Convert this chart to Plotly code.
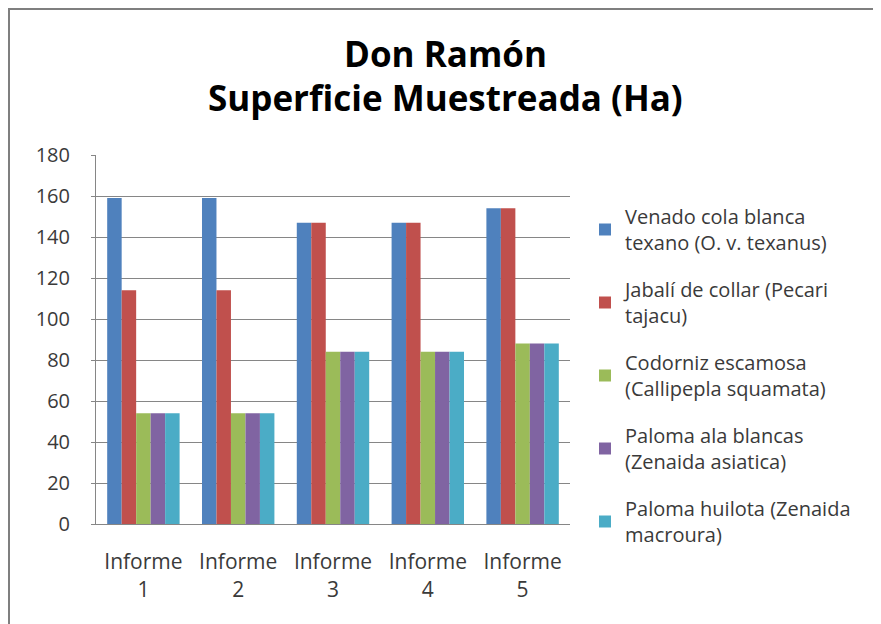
import plotly.graph_objects as go

categories = ["Informe<br>1", "Informe<br>2", "Informe<br>3", "Informe<br>4", "Informe<br>5"]
series_names = [
    "Venado cola blanca<br>texano (O. v. texanus)",
    "Jabalí de collar (Pecari<br>tajacu)",
    "Codorniz escamosa<br>(Callipepla squamata)",
    "Paloma ala blancas<br>(Zenaida asiatica)",
    "Paloma huilota (Zenaida<br>macroura)",
]
venado = [159, 159, 147, 147, 154]
jabali = [114, 114, 147, 147, 154]
codorniz = [54, 54, 84, 84, 88]
paloma_ala = [54, 54, 84, 84, 88]
paloma_huilota = [54, 54, 84, 84, 88]
series_values = [venado, jabali, codorniz, paloma_ala, paloma_huilota]
colors = ["#4F81BD", "#C0504D", "#9BBB59", "#8064A2", "#4BACC6"]
y_ticks = [0, 20, 40, 60, 80, 100, 120, 140, 160, 180]
title_lines = ["Don Ramón", "Superficie Muestreada (Ha)"]

FONT = "Open Sans, Calibri, sans-serif"
W, H = 881, 624
PL, PR, PT, PB = 88, 562, 147, 516
PW, PH = PR - PL, PB - PT

def py_(py):
    return (PB - py) / PH

def px_(px):
    return (px - PL) / PW

fig = go.Figure()
for name, vals, col in zip(series_names, series_values, colors):
    fig.add_trace(go.Bar(
        x=categories, y=vals, name=name, legendgroup=name,
        marker=dict(color=col, line=dict(width=0)),
    ))

annotations = []
for line, py in zip(title_lines, [46, 90]):
    annotations.append(dict(
        text=f"<b>{line}</b>", xref="paper", yref="paper",
        x=px_(437), y=py_(py),
        xanchor="center", yanchor="middle", showarrow=False,
        font=dict(family=FONT, size=35, color="#000000"),
    ))

fig.update_layout(
    width=W, height=H,
    margin=dict(l=PL, r=W - PR, t=PT, b=H - PB, autoexpand=False),
    paper_bgcolor="white", plot_bgcolor="white",
    barmode="group", bargap=0.236, bargroupgap=0,
    font=dict(family=FONT, size=20, color="#3a3a3a"),
    annotations=annotations,
    legend=dict(
        x=px_(577), xanchor="left", y=py_(189), yanchor="top",
        font=dict(family=FONT, size=20, color="#3a3a3a"),
        tracegroupgap=18, itemwidth=30, traceorder="grouped",
        bgcolor="rgba(0,0,0,0)", maxheight=430,
    ),
    showlegend=True,
    xaxis=dict(
        showline=True, linecolor="#868686", linewidth=1,
        ticks="", tickfont=dict(family=FONT, size=21, color="#3a3a3a"),
        ticklabelstandoff=19, showgrid=False,
    ),
    yaxis=dict(
        range=[0, 180], tickvals=y_ticks,
        showline=True, linecolor="#868686", linewidth=1,
        ticks="outside", ticklen=4, tickcolor="#868686",
        showgrid=True, gridcolor="#868686", gridwidth=1,
        tickfont=dict(family=FONT, size=20, color="#3a3a3a"),
        ticklabelstandoff=17, zeroline=False,
    ),
    shapes=[dict(type="rect", xref="paper", yref="paper",
                 x0=px_(1), x1=px_(868),
                 y0=py_(640), y1=py_(1),
                 line=dict(color="#7f7f7f", width=2), layer="below")],
)

fig.write_html("out.html")
